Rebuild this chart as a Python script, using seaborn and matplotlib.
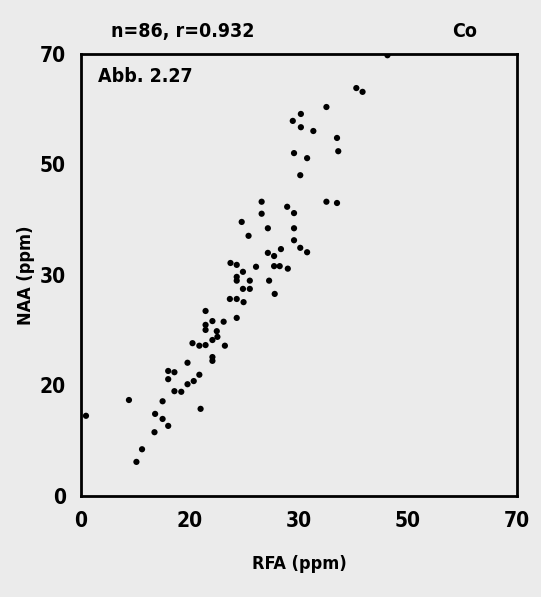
import numpy as np
import pandas as pd
import matplotlib
matplotlib.use("Agg")
import matplotlib.pyplot as plt
import seaborn as sns

# values, in linear axis units (0..70 on both axes)
rfa = [49.2, 44.2, 45.2, 39.4, 35.3, 34.0, 35.3, 37.3, 41.1, 34.2,
       36.3, 41.3, 35.2, 39.4, 41.1, 29.0, 33.1, 34.2, 29.0, 25.8,
       30.0, 34.2, 26.9, 34.2, 35.2, 36.3, 32.1, 30.0, 31.0, 24.0,
       25.0, 28.1, 31.0, 31.9, 33.2, 26.0, 25.0, 25.0, 27.1, 30.2,
       26.0, 27.1, 31.1, 23.9, 25.0, 26.1, 20.0, 25.0, 21.1, 22.9,
       20.0, 20.0, 21.8, 21.9, 21.1, 17.9, 19.0, 20.0, 23.1, 21.1,
       21.1, 17.1, 14.0, 15.0, 14.0, 19.0, 18.1, 17.1, 15.0, 16.1,
       7.7, 13.1, 0.8, 19.2, 11.9, 13.1, 14.0, 11.8, 9.8, 8.9]
naa = [69.8, 64.6, 64.0, 61.6, 60.5, 59.4, 58.4, 57.8, 56.7, 54.3,
       53.5, 54.6, 50.8, 46.6, 46.4, 46.6, 45.8, 44.8, 44.7, 43.4,
       42.4, 42.4, 41.2, 40.5, 39.3, 38.6, 39.1, 38.5, 38.0, 36.9,
       36.6, 36.3, 36.4, 36.4, 36.0, 35.5, 34.7, 34.1, 34.1, 34.1,
       32.8, 32.8, 32.0, 31.2, 31.2, 30.7, 29.3, 28.2, 27.7, 27.6,
       27.1, 26.3, 26.1, 25.2, 24.7, 24.2, 23.8, 23.9, 23.8, 22.0,
       21.4, 21.1, 19.8, 19.6, 18.5, 19.2, 18.2, 17.7, 16.6, 16.5,
       15.2, 15.0, 12.7, 13.8, 13.0, 12.2, 11.1, 10.1, 7.4, 5.4]

tick_pos = [0, 17.5, 35, 52.5, 70]
tick_labels = ["0", "20", "30", "50", "70"]

df = pd.DataFrame({"RFA": rfa, "NAA": naa})

sns.set_style("white")
plt.rcParams["font.family"] = ["DejaVu Sans"]
plt.rcParams["font.stretch"] = "condensed"
plt.rcParams["font.weight"] = "bold"
plt.rcParams["text.color"] = "black"
plt.rcParams["axes.labelcolor"] = "black"

bg = "#ebebeb"
fs = 15
fig = plt.figure(figsize=(5.41, 5.97), dpi=100, facecolor=bg)
ax = fig.add_axes([0.1497, 0.1692, 0.806, 0.7404], facecolor=bg)

sns.scatterplot(data=df, x="RFA", y="NAA", ax=ax, color="black",
                s=20, edgecolor="none", linewidth=0)

ax.set_xlim(0, 70)
ax.set_ylim(0, 70)
ax.set_xticks(tick_pos)
ax.set_xticklabels(tick_labels)
ax.set_yticks(tick_pos)
ax.set_yticklabels(tick_labels)
ax.tick_params(direction="inout", length=6, width=1.5, labelsize=fs,
               colors="black", pad=8)

for sp in ax.spines.values():
    sp.set_linewidth(2)
    sp.set_color("black")
    sp.set_visible(True)

ax.set_xlabel("RFA (ppm)", fontsize=13, fontweight="bold", va="center")
ax.set_ylabel("NAA (ppm)", fontsize=13, fontweight="bold", va="center")
ax.xaxis.set_label_coords(0.5, -0.154)
ax.yaxis.set_label_coords(-0.126, 0.5)

ax.text(0.04, 0.97, "Abb. 2.27", transform=ax.transAxes, fontsize=14,
        fontweight="bold", va="top", ha="left")
fig.text(0.205, 0.948, "n=86, r=0.932", fontsize=14, fontweight="bold",
         ha="left", va="center")
fig.text(0.835, 0.948, "Co", fontsize=14, fontweight="bold",
         ha="left", va="center")

fig.savefig("out.png", dpi=100, facecolor=bg)
